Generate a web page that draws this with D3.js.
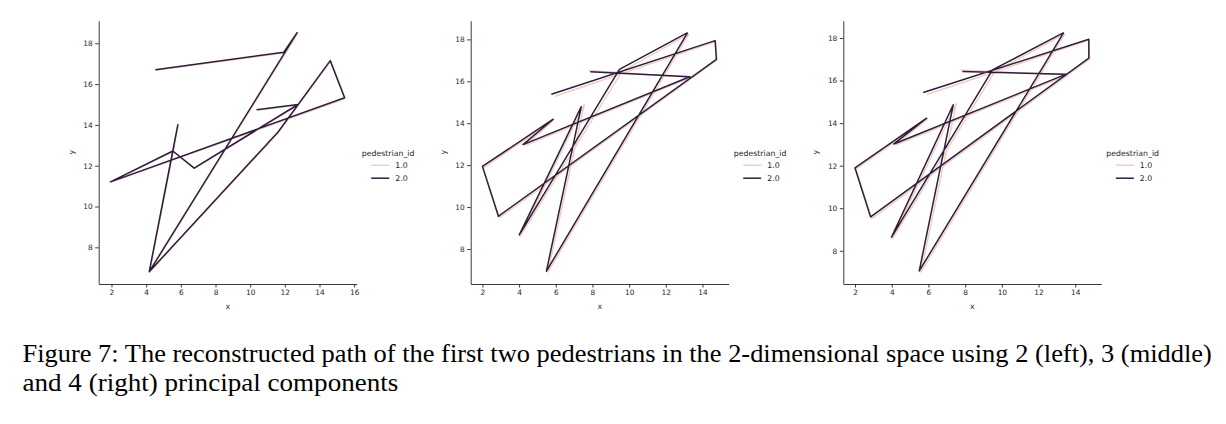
<!DOCTYPE html>
<html>
<head>
<meta charset="utf-8">
<script src="https://cdn.jsdelivr.net/npm/d3@7"></script>
<style>
  body { margin: 0; background: #fff; }
  svg { display: block; }
</style>
</head>
<body>
<svg id="chart" width="1226" height="424"></svg>
<script>
// tick values
const xTicksLeft = [2, 4, 6, 8, 10, 12, 14, 16];
const xTicksOther = [2, 4, 6, 8, 10, 12, 14];
const yTicks = [8, 10, 12, 14, 16, 18];

const pedIds = ['1.0', '2.0'];
const pedColors = ['#efcfc5', '#2d1e3e'];

// reconstructed paths (null = break in the line)
// 2 components (left)
const ped1Left = [[4.55, 16.68], [11.96, 17.52], [12.74, 18.48], [4.2, 6.79], [5.84, 13.98], [5.56, 12.7],
  [1.95, 11.19], [15.47, 15.28], [14.64, 17.12], [11.63, 13.62], [4.2, 6.79], [5.56, 12.7],
  [6.79, 11.86], [12.78, 14.97], [10.39, 14.72]];
const ped2Left = [[4.53, 16.70], [11.94, 17.56], [12.71, 18.52], [4.18, 6.81], [5.83, 14.01], [5.54, 12.72],
  [1.94, 11.21], [15.45, 15.33], [14.62, 17.15], [11.61, 13.65], [4.18, 6.81], [5.54, 12.72],
  [6.77, 11.88], [12.76, 15.0], [10.37, 14.74]];

// 3 components (middle)
const ped1Mid = [[5.97, 15.29], [14.70, 17.90], [14.79, 17.02], [2.93, 9.49], [2.04, 11.87], [5.88, 14.14],
  [4.32, 12.94], [13.36, 16.19], [7.78, 16.51], null,
  [13.26, 18.26], [9.60, 16.46], [4.06, 8.60], [7.55, 14.88], [5.57, 6.90], [13.26, 18.26]];
const ped2Mid = [[5.76, 15.38], [14.69, 17.94], [14.76, 17.05], [2.87, 9.56], [2.0, 11.94], [5.86, 14.19],
  [4.21, 12.98], [13.31, 16.22], [7.88, 16.46], null,
  [13.19, 18.32], [9.47, 16.57], [4.01, 8.67], [7.39, 14.79], [5.49, 6.94], [13.19, 18.32]];

// 4 components (right)
const ped1Right = [[5.92, 15.34], [14.74, 17.90], [14.78, 17.00], [2.91, 9.51], [2.04, 11.84], [5.93, 14.19],
  [4.22, 12.97], [13.56, 16.26], [7.74, 16.49], null,
  [13.43, 18.19], [9.62, 16.43], [4.04, 8.57], [7.52, 14.92], [5.59, 7.00], [13.43, 18.19]];
const ped2Right = [[5.72, 15.44], [14.74, 17.94], [14.74, 17.05], [2.85, 9.59], [2.0, 11.89], [5.90, 14.23],
  [4.12, 13.02], [13.51, 16.30], [7.85, 16.42], null,
  [13.37, 18.25], [9.49, 16.50], [3.99, 8.64], [7.35, 14.86], [5.50, 7.05], [13.37, 18.25]];

const captionLines = [
  'Figure 7:  The reconstructed path of the first two pedestrians in the 2-dimensional space using 2 (left), 3 (middle)',
  'and 4 (right) principal components'
];

const panels = [
  { left: 98.7, xTicks: xTicksLeft, series: [ped1Left, ped2Left] },
  { left: 470.7, xTicks: xTicksOther, series: [ped1Mid, ped2Mid] },
  { left: 843.3, xTicks: xTicksOther, series: [ped1Right, ped2Right] }
];

const axW = 258;
const axTop = 20.7;
const axBottom = 284;
const axH = axBottom - axTop;
const tickColor = '#262626';
const font = 'DejaVu Sans';

const svg = d3.select('#chart');

// matplotlib style: data extent with 5% margin
function padded(vals) {
  const [lo, hi] = d3.extent(vals);
  const m = (hi - lo) * 0.05;
  return [lo - m, hi + m];
}

panels.forEach(p => {
  const pts = p.series.flat().filter(d => d);
  const x = d3.scaleLinear().domain(padded(pts.map(d => d[0]))).range([0, axW]);
  const y = d3.scaleLinear().domain(padded(pts.map(d => d[1]))).range([axH, 0]);

  const g = svg.append('g')
    .attr('transform', `translate(${p.left},${axTop})`);

  const line = d3.line()
    .defined(d => d !== null)
    .x(d => x(d[0]))
    .y(d => y(d[1]));

  // pedestrian 1 under, pedestrian 2 on top
  p.series.forEach((s, i) => {
    g.append('path')
      .datum(s)
      .attr('fill', 'none')
      .attr('stroke', pedColors[i])
      .attr('stroke-width', 1.5)
      .attr('stroke-linejoin', 'round')
      .attr('d', line);
  });

  const xAxis = g.append('g')
    .attr('transform', `translate(0,${axH})`)
    .call(d3.axisBottom(x).tickValues(p.xTicks).tickSize(3.5).tickSizeOuter(0).tickPadding(2.5));

  const yAxis = g.append('g')
    .call(d3.axisLeft(y).tickValues(yTicks).tickSize(3.5).tickSizeOuter(0).tickPadding(2.5));

  [xAxis, yAxis].forEach(a => {
    a.selectAll('path, line').attr('stroke', tickColor).attr('stroke-width', 0.9);
    a.selectAll('text')
      .attr('fill', tickColor)
      .attr('font-family', font)
      .attr('font-size', '7.4px');
  });

  g.append('text')
    .attr('x', axW / 2)
    .attr('y', axH + 25)
    .attr('text-anchor', 'middle')
    .attr('font-family', font)
    .attr('font-size', '7.8px')
    .attr('fill', tickColor)
    .text('x');

  g.append('text')
    .attr('transform', `translate(-25,${131.5}) rotate(-90)`)
    .attr('text-anchor', 'middle')
    .attr('font-family', font)
    .attr('font-size', '7.8px')
    .attr('fill', tickColor)
    .text('y');

  // legend
  const lg = g.append('g')
    .attr('transform', `translate(${axW + 5},${135.5})`);

  lg.append('text')
    .attr('x', 0)
    .attr('y', 0)
    .attr('font-family', font)
    .attr('font-size', '7.8px')
    .attr('fill', tickColor)
    .text('pedestrian_id');

  pedIds.forEach((id, i) => {
    const yy = 9 + i * 13;
    lg.append('line')
      .attr('x1', 9.5).attr('x2', 27.5)
      .attr('y1', yy).attr('y2', yy)
      .attr('stroke', pedColors[i])
      .attr('stroke-width', 1.5);
    lg.append('text')
      .attr('x', 33.5)
      .attr('y', yy + 2.8)
      .attr('font-family', font)
      .attr('font-size', '7.8px')
      .attr('fill', tickColor)
      .text(id);
  });
});

// caption: glyph width set from the short last line, first line sized to span the full width
const cap = svg.append('g');

const cap2 = cap.append('text')
  .attr('x', 0)
  .attr('y', 391.5)
  .attr('font-family', 'Liberation Serif')
  .attr('font-size', '25px')
  .attr('fill', '#000')
  .text(captionLines[1]);

const k = 376 / cap2.node().getComputedTextLength();
cap.attr('transform', `translate(22.5,0) scale(${k},1)`);

const cap1 = cap.append('text')
  .attr('x', 0)
  .attr('y', 362.5)
  .attr('font-family', 'Liberation Serif')
  .attr('font-size', '25px')
  .attr('fill', '#000')
  .text(captionLines[0]);

const fs1 = 25 * (1189 / k) / cap1.node().getComputedTextLength();
cap1.attr('font-size', `${fs1}px`);
</script>
</body>
</html>
